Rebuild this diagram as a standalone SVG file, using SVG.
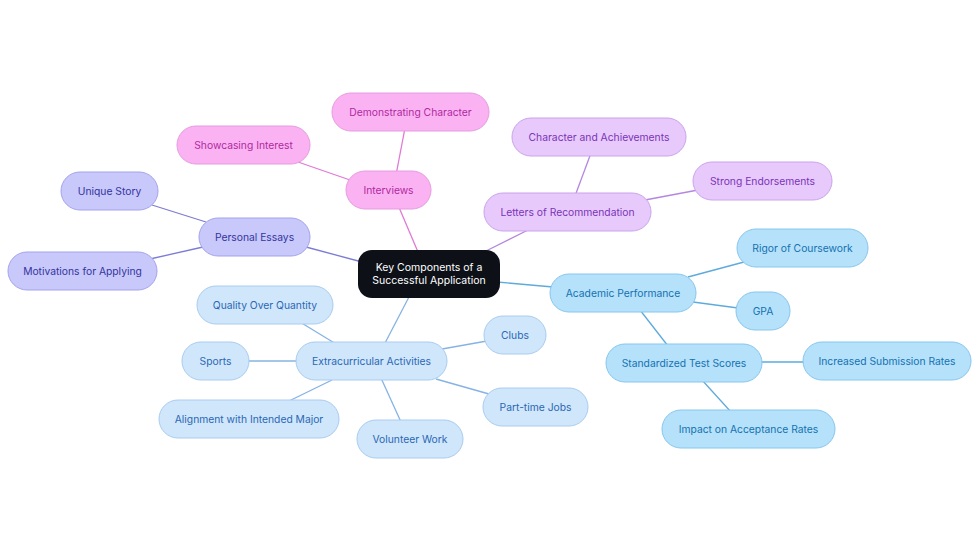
<svg xmlns="http://www.w3.org/2000/svg" width="980" height="553" viewBox="0 0 980 553">
<style>
text{font-family:Inter,"Noto Sans","Liberation Sans",sans-serif;font-size:10.3px;text-anchor:middle;dominant-baseline:central}
.pk rect{fill:#fbb2f3;stroke:#e59ce0;stroke-width:1}
.pk text{fill:#b02a9f}
.pu rect{fill:#e8c9fb;stroke:#caa3ec;stroke-width:1}
.pu text{fill:#7a34b8}
.in rect{fill:#c8c8fa;stroke:#a3a3ec;stroke-width:1}
.in text{fill:#3434a0}
.lb rect{fill:#d0e6fb;stroke:#a8ccef;stroke-width:1}
.lb text{fill:#2a68b4}
.cy rect{fill:#b5e1fb;stroke:#86c6ee;stroke-width:1}
.cy text{fill:#1472b0}
.root rect{fill:#0d1117}
.root text{fill:#ffffff;font-size:10.5px}
#edges line{stroke-width:1.3}
.e-pk{stroke:#e07ad6}.e-pu{stroke:#b587e0}.e-in{stroke:#7c7cd6}.e-lb{stroke:#86b3e4}.e-cy{stroke:#5eaadc}
</style>
<rect width="980" height="553" fill="#ffffff"/>
<g id="edges">
<line class="e-pk" x1="418" y1="252" x2="398" y2="205"/>
<line class="e-pk" x1="396" y1="175" x2="405" y2="128"/>
<line class="e-pk" x1="350" y1="180" x2="298" y2="162"/>
<line class="e-pu" x1="484" y1="252" x2="530" y2="229"/>
<line class="e-pu" x1="575" y1="196" x2="591" y2="153"/>
<line class="e-pu" x1="645" y1="200" x2="698" y2="190"/>
<line class="e-in" x1="362" y1="262" x2="306" y2="247"/>
<line class="e-in" x1="206" y1="222" x2="152" y2="205"/>
<line class="e-in" x1="203" y1="247" x2="150" y2="259"/>
<line class="e-lb" x1="410" y1="295" x2="384" y2="345"/>
<line class="e-lb" x1="336" y1="344" x2="300" y2="322"/>
<line class="e-lb" x1="299" y1="361" x2="247" y2="361"/>
<line class="e-lb" x1="332" y1="380" x2="287" y2="402"/>
<line class="e-lb" x1="381" y1="378" x2="401" y2="422"/>
<line class="e-lb" x1="442" y1="349" x2="487" y2="341"/>
<line class="e-lb" x1="436" y1="379" x2="489" y2="394"/>
<line class="e-cy" x1="497" y1="282" x2="553" y2="287"/>
<line class="e-cy" x1="688" y1="277" x2="744" y2="262"/>
<line class="e-cy" x1="693" y1="302" x2="738" y2="308"/>
<line class="e-cy" x1="640" y1="310" x2="668" y2="346"/>
<line class="e-cy" x1="760" y1="362" x2="806" y2="362"/>
<line class="e-cy" x1="702" y1="380" x2="731" y2="412"/>
</g>
<g id="root" class="root"><rect x="358" y="250" width="142" height="48" rx="14"/><text x="429" y="267">Key Components of a</text><text x="429" y="280.5">Successful Application</text></g>
<g id="interviews" class="pk"><rect x="346" y="171" width="85" height="38" rx="19"/><text x="388.5" y="190">Interviews</text></g>
<g id="demonstrating-character" class="pk"><rect x="332" y="93" width="157" height="38" rx="19"/><text x="410.5" y="112">Demonstrating Character</text></g>
<g id="showcasing-interest" class="pk"><rect x="177" y="126" width="133" height="38" rx="19"/><text x="243.5" y="145">Showcasing Interest</text></g>
<g id="letters" class="pu"><rect x="484" y="193" width="167" height="38" rx="19"/><text x="567.5" y="212">Letters of Recommendation</text></g>
<g id="character-achievements" class="pu"><rect x="512" y="118" width="174" height="38" rx="19"/><text x="599" y="137">Character and Achievements</text></g>
<g id="strong-endorsements" class="pu"><rect x="693" y="162" width="139" height="38" rx="19"/><text x="762.5" y="181">Strong Endorsements</text></g>
<g id="personal-essays" class="in"><rect x="199" y="218" width="111" height="38" rx="19"/><text x="254.5" y="237">Personal Essays</text></g>
<g id="unique-story" class="in"><rect x="61" y="172" width="97" height="38" rx="19"/><text x="109.5" y="191">Unique Story</text></g>
<g id="motivations" class="in"><rect x="8" y="252" width="149" height="38" rx="19"/><text x="82.5" y="271">Motivations for Applying</text></g>
<g id="extracurricular" class="lb"><rect x="296" y="342" width="151" height="38" rx="19"/><text x="371.5" y="361">Extracurricular Activities</text></g>
<g id="quality" class="lb"><rect x="197" y="286" width="136" height="38" rx="19"/><text x="265" y="305">Quality Over Quantity</text></g>
<g id="sports" class="lb"><rect x="182" y="342" width="67" height="38" rx="19"/><text x="215.5" y="361">Sports</text></g>
<g id="alignment" class="lb"><rect x="159" y="400" width="180" height="38" rx="19"/><text x="249" y="419">Alignment with Intended Major</text></g>
<g id="volunteer" class="lb"><rect x="357" y="420" width="106" height="38" rx="19"/><text x="410" y="439">Volunteer Work</text></g>
<g id="clubs" class="lb"><rect x="484" y="316" width="62" height="38" rx="19"/><text x="515" y="335">Clubs</text></g>
<g id="part-time" class="lb"><rect x="483" y="388" width="105" height="38" rx="19"/><text x="535.5" y="407">Part-time Jobs</text></g>
<g id="academic" class="cy"><rect x="550" y="274" width="146" height="38" rx="19"/><text x="623" y="293">Academic Performance</text></g>
<g id="rigor" class="cy"><rect x="737" y="229" width="131" height="38" rx="19"/><text x="802.5" y="248">Rigor of Coursework</text></g>
<g id="gpa" class="cy"><rect x="736" y="292" width="54" height="38" rx="19"/><text x="763" y="311">GPA</text></g>
<g id="standardized" class="cy"><rect x="606" y="344" width="156" height="38" rx="19"/><text x="684" y="363">Standardized Test Scores</text></g>
<g id="increased" class="cy"><rect x="803" y="342" width="168" height="38" rx="19"/><text x="887" y="361">Increased Submission Rates</text></g>
<g id="impact" class="cy"><rect x="662" y="410" width="173" height="38" rx="19"/><text x="748.5" y="429">Impact on Acceptance Rates</text></g>
</svg>
